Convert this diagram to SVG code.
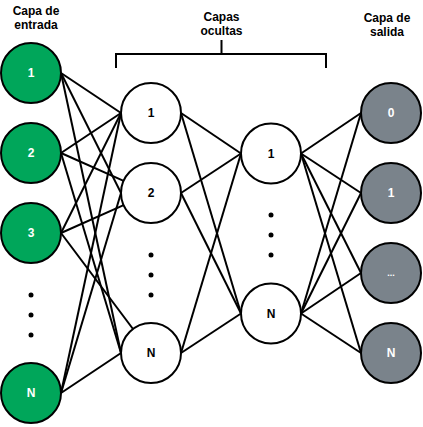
<svg xmlns="http://www.w3.org/2000/svg" width="423" height="427" viewBox="0 0 423 427">
  <style>
    .title { font-family: "Liberation Sans", Arial, sans-serif; font-size: 12px; font-weight: bold; fill: #000; text-anchor: middle; }
    .lbl { font-family: "Liberation Sans", Arial, sans-serif; font-size: 12px; font-weight: bold; text-anchor: middle; dominant-baseline: central; }
    .in circle { fill: #00a65a; stroke: #000; stroke-width: 2; }
    .hid circle { fill: #fff; stroke: #000; stroke-width: 2; }
    .out circle { fill: #7a838b; stroke: #000; stroke-width: 2; }
    .in text, .out text { fill: #fff; }
    .hid text { fill: #000; }
    .edges line { stroke: #000; stroke-width: 2; }
    .dot { fill: #000; }
    .bracket { fill: none; stroke: #000; stroke-width: 2; }
  </style>
  <rect width="423" height="427" fill="#fff"/>

  <!-- layer titles -->
  <text class="title" x="36" y="15">Capa de</text>
  <text class="title" x="36" y="29">entrada</text>
  <text class="title" x="221.5" y="21">Capas</text>
  <text class="title" x="221.5" y="34.5">ocultas</text>
  <text class="title" x="387" y="21.5">Capa de</text>
  <text class="title" x="387" y="35.5">salida</text>

  <!-- bracket over the hidden layers -->
  <path class="bracket" d="M116,68 V54 H326 V68 M221.5,40 V54"/>

  <!-- connectors -->
  <g id="connectors" class="edges">
    <!-- input -> hidden 1 -->
    <line x1="61" y1="73" x2="121" y2="113"/>
    <line x1="61" y1="73" x2="121" y2="193"/>
    <line x1="61" y1="73" x2="121" y2="353"/>
    <line x1="61" y1="153" x2="121" y2="113"/>
    <line x1="61" y1="153" x2="123.6" y2="180.8"/>
    <line x1="61" y1="153" x2="121" y2="353"/>
    <line x1="61" y1="233" x2="121" y2="113"/>
    <line x1="61" y1="233" x2="123.6" y2="205.2"/>
    <line x1="61" y1="233" x2="133" y2="329"/>
    <line x1="61" y1="393" x2="121" y2="113"/>
    <line x1="61" y1="393" x2="121" y2="193"/>
    <line x1="61" y1="393" x2="121" y2="353"/>
    <!-- hidden 1 -> hidden 2 -->
    <line x1="181" y1="113" x2="241" y2="153.5"/>
    <line x1="181" y1="113" x2="241" y2="313.5"/>
    <line x1="181" y1="193" x2="241" y2="153.5"/>
    <line x1="181" y1="193" x2="241" y2="313.5"/>
    <line x1="181" y1="353" x2="241" y2="153.5"/>
    <line x1="181" y1="353" x2="241" y2="313.5"/>
    <!-- hidden 2 -> output -->
    <line x1="301" y1="153.5" x2="361" y2="113"/>
    <line x1="301" y1="153.5" x2="361" y2="193"/>
    <line x1="301" y1="153.5" x2="361" y2="273"/>
    <line x1="301" y1="153.5" x2="361" y2="353"/>
    <line x1="301" y1="313.5" x2="361" y2="113"/>
    <line x1="301" y1="313.5" x2="361" y2="193"/>
    <line x1="301" y1="313.5" x2="361" y2="273"/>
    <line x1="301" y1="313.5" x2="361" y2="353"/>
  </g>

  <!-- input layer -->
  <g id="in-1" class="in"><circle cx="31" cy="73" r="30"/><text class="lbl" x="31" y="73">1</text></g>
  <g id="in-2" class="in"><circle cx="31" cy="153" r="30"/><text class="lbl" x="31" y="153">2</text></g>
  <g id="in-3" class="in"><circle cx="31" cy="233" r="30"/><text class="lbl" x="31" y="233">3</text></g>
  <g id="in-dots"><circle class="dot" cx="31" cy="295" r="2.5"/><circle class="dot" cx="31" cy="315" r="2.5"/><circle class="dot" cx="31" cy="335" r="2.5"/></g>
  <g id="in-n" class="in"><circle cx="31" cy="393" r="30"/><text class="lbl" x="31" y="393">N</text></g>

  <!-- hidden layer 1 -->
  <g id="h1-1" class="hid"><circle cx="151" cy="113" r="30"/><text class="lbl" x="151" y="113">1</text></g>
  <g id="h1-2" class="hid"><circle cx="151" cy="193" r="30"/><text class="lbl" x="151" y="193">2</text></g>
  <g id="h1-dots"><circle class="dot" cx="151" cy="255" r="2.5"/><circle class="dot" cx="151" cy="275" r="2.5"/><circle class="dot" cx="151" cy="295" r="2.5"/></g>
  <g id="h1-n" class="hid"><circle cx="151" cy="353" r="30"/><text class="lbl" x="151" y="353">N</text></g>

  <!-- hidden layer 2 -->
  <g id="h2-1" class="hid"><circle cx="271" cy="153.5" r="30"/><text class="lbl" x="271" y="153.5">1</text></g>
  <g id="h2-dots"><circle class="dot" cx="271" cy="215" r="2.5"/><circle class="dot" cx="271" cy="235" r="2.5"/><circle class="dot" cx="271" cy="255" r="2.5"/></g>
  <g id="h2-n" class="hid"><circle cx="271" cy="313.5" r="30"/><text class="lbl" x="271" y="313.5">N</text></g>

  <!-- output layer -->
  <g id="out-0" class="out"><circle cx="391" cy="113" r="30"/><text class="lbl" x="391" y="113">0</text></g>
  <g id="out-1" class="out"><circle cx="391" cy="193" r="30"/><text class="lbl" x="391" y="193">1</text></g>
  <g id="out-etc" class="out"><circle cx="391" cy="273" r="30"/><text class="lbl" x="391" y="273" style="font-size:9px">...</text></g>
  <g id="out-n" class="out"><circle cx="391" cy="353" r="30"/><text class="lbl" x="391" y="353">N</text></g>
</svg>
